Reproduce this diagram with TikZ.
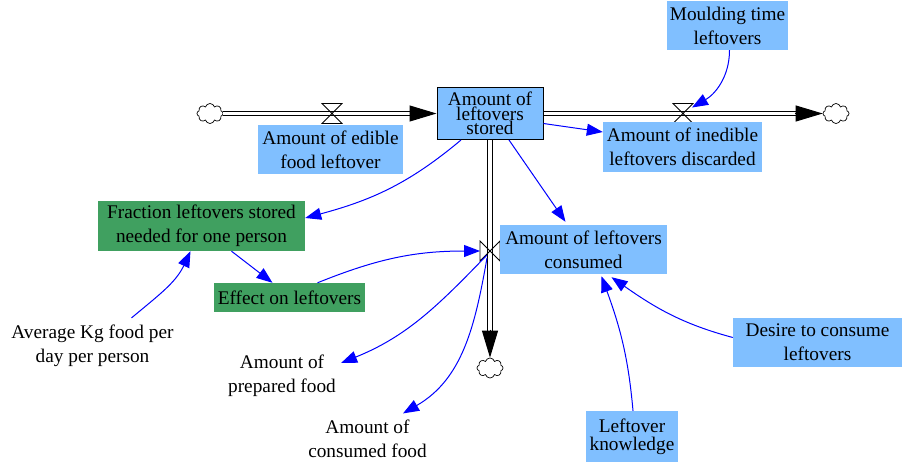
\documentclass[tikz,border=0pt]{standalone}
\usepackage{fontspec}
\setmainfont{Liberation Serif}
\usetikzlibrary{arrows.meta,shapes.symbols,calc}

\definecolor{auxblue}{RGB}{128,191,255}
\definecolor{auxgreen}{RGB}{64,160,96}
\definecolor{linkblue}{RGB}{0,0,255}

\begin{document}
\begin{tikzpicture}[x=1pt,y=1pt,
  txt/.style={font=\fontsize{19.3}{24}\selectfont, align=center, inner sep=0pt},
  varbox/.style={txt, fill=auxblue},
  grnbox/.style={txt, fill=auxgreen},
  stockbox/.style={draw=black, line width=1pt, fill=auxblue, minimum width=106pt,
    minimum height=52pt, inner sep=0pt, align=center, font=\fontsize{19.3}{13.5}\selectfont},
  pipe/.style={draw=black, double=white, line width=0.9pt, double distance=3.6pt},
  pipetip/.style={line width=1pt, -{Triangle[length=27pt,width=16pt]}},
  valvestyle/.style={draw=black, line width=0.8pt},
  cloudnode/.style={cloud, cloud puffs=8, draw=black, line width=0.7pt, fill=white,
    minimum width=26pt, minimum height=20pt, inner sep=0pt, aspect=1.3},
  link/.style={draw=linkblue, line width=1pt, -{Triangle[length=16pt,width=12pt]}}
]
\useasboundingbox (0,0) rectangle (902,-461);

% stock and sources/sinks
\node[stockbox] (stock) at (490,-113.5) {Amount of\\leftovers\\stored};
\node[cloudnode] (cloudL) at (210,-113.5) {};
\node[cloudnode] (cloudR) at (836,-113.5) {};
\node[cloudnode] (cloudB) at (490,-368) {};

% flow pipes
\draw[pipe] (cloudL.east) -- ([xshift=-26pt]stock.west);
\draw[pipetip] ([xshift=-27pt]stock.west) -- (stock.west);
\draw[pipe] (stock.east) -- ([xshift=-27pt]cloudR.west);
\draw[pipetip] ([xshift=-28pt]cloudR.west) -- (cloudR.west);
\draw[pipe] (stock.south) -- ([yshift=27pt]cloudB.north);
\draw[pipetip] ([yshift=28pt]cloudB.north) -- (cloudB.north);

% valves
\coordinate (v1) at (332,-113.5);
\coordinate (v2) at (683,-113.5);
\coordinate (v3) at (490,-251);
\draw[valvestyle] ($(v1)+(-10,10)$) -- ($(v1)+(10,10)$) -- ($(v1)+(-10,-10)$) -- ($(v1)+(10,-10)$) -- cycle;
\draw[valvestyle] ($(v2)+(-10,10)$) -- ($(v2)+(10,10)$) -- ($(v2)+(-10,-10)$) -- ($(v2)+(10,-10)$) -- cycle;
\draw[valvestyle] ($(v3)+(-10,10)$) -- ($(v3)+(-10,-10)$) -- ($(v3)+(10,10)$) -- ($(v3)+(10,-10)$) -- cycle;

% variables
\node[varbox, minimum width=145pt, minimum height=49pt] (edible) at (330.5,-149.5) {Amount of edible\\food leftover};
\node[varbox, minimum width=159pt, minimum height=50pt] (inedible) at (682.5,-147) {Amount of inedible\\leftovers discarded};
\node[varbox, minimum width=121pt, minimum height=49pt] (mould) at (727.5,-25.5) {Moulding time\\leftovers};
\node[varbox, minimum width=167pt, minimum height=49pt] (consumed) at (583.5,-249.5) {Amount of leftovers\\consumed};
\node[grnbox, minimum width=207pt, minimum height=50pt] (fraction) at (201.5,-226) {Fraction leftovers stored\\needed for one person};
\node[grnbox, minimum width=151pt, minimum height=29pt] (effect) at (289.5,-297.5) {Effect on leftovers};
\node[varbox, minimum width=169pt, minimum height=49pt] (desire) at (817.5,-342.5) {Desire to consume\\leftovers};
\node[varbox, minimum width=92pt, minimum height=52pt, font=\fontsize{19.3}{18}\selectfont] (knowledge) at (632,-437) {Leftover\\knowledge};
\node[txt] (avg) at (92.5,-346) {Average Kg food per\\day per person};
\node[txt] (prepared) at (282,-376) {Amount of\\prepared food};
\node[txt] (eaten) at (367.5,-439) {Amount of\\consumed food};

% causal links
\draw[link] ([xshift=2pt]mould.south) to[out=-90,in=30] ($(v2)+(9,6)$);
\draw[link] ([yshift=-10pt]stock.east) -- ([yshift=15pt]inedible.west);
\draw[link] ([xshift=19pt]stock.south) -- ([xshift=-18pt,yshift=3pt]consumed.north);
\draw[link] ([xshift=-29pt]stock.south) to[out=-140,in=15] ([yshift=8pt]fraction.east);
\draw[link] ([xshift=30pt]fraction.south) -- ([xshift=-17pt]effect.north);
\draw[link] ([xshift=28pt]effect.north) to[out=22,in=180] ($(v3)+(-10,0)$);
\draw[link] ([xshift=39pt,yshift=7pt]avg.north) to[out=40,in=-115] ([xshift=-11pt]fraction.south);
\draw[link] ($(v3)+(-3,-4)$) to[out=-134,in=22] ([xshift=5pt,yshift=13pt]prepared.east);
\draw[link] ($(v3)+(-3,-7)$) to[out=-100,in=30] ([xshift=35.5pt,yshift=6.5pt]eaten.north);
\draw[link] ([yshift=5pt]desire.west) to[out=165,in=-35] ([xshift=28pt,yshift=-3pt]consumed.south);
\draw[link] ([xshift=1pt]knowledge.north) to[out=95,in=-70] ([xshift=18pt,yshift=-2pt]consumed.south);
\end{tikzpicture}
\end{document}
